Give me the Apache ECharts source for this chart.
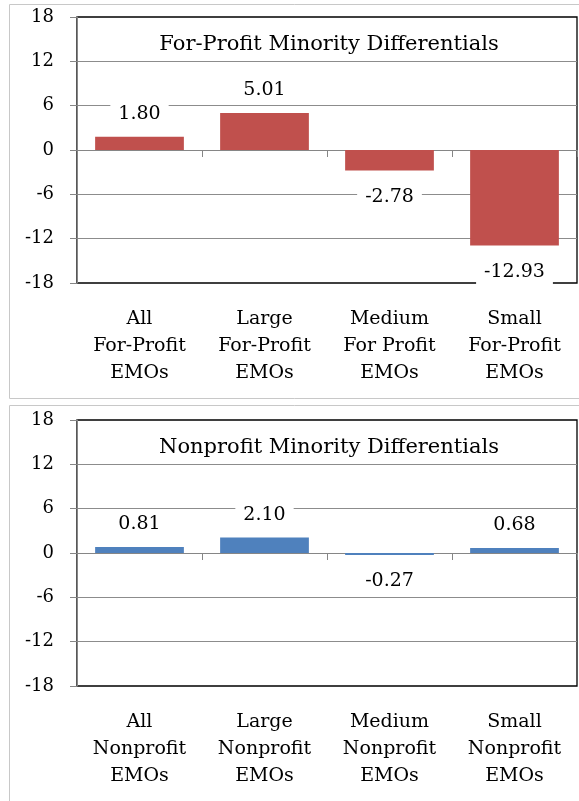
<!DOCTYPE html>
<html><head><meta charset="utf-8">
<script src="https://cdn.jsdelivr.net/npm/echarts@6/dist/echarts.min.js"></script>
<style>html,body{margin:0;padding:0;background:#fff}#c{width:579px;height:801px}</style>
</head><body><div id="c"></div>
<script>
const titles = ['For-Profit Minority Differentials', 'Nonprofit Minority Differentials'];
const categoriesForProfit = ['All\nFor-Profit\nEMOs', 'Large\nFor-Profit\nEMOs', 'Medium\nFor Profit\nEMOs', 'Small\nFor-Profit\nEMOs'];
const categoriesNonprofit = ['All\nNonprofit\nEMOs', 'Large\nNonprofit\nEMOs', 'Medium\nNonprofit\nEMOs', 'Small\nNonprofit\nEMOs'];
const valuesForProfit = [1.80, 5.01, -2.78, -12.93];
const valuesNonprofit = [0.81, 2.10, -0.27, 0.68];
const yTicks = { min: -18, max: 18, interval: 6 };
const colors = ['#C0504D', '#4F81BD'];

const FONT = 'DejaVu Serif';
const chart = echarts.init(document.getElementById('c'), null, { renderer: 'canvas' });

const panels = [
  { cats: categoriesForProfit, vals: valuesForProfit, top: 17, title: titles[0], color: colors[0] },
  { cats: categoriesNonprofit, vals: valuesNonprofit, top: 420, title: titles[1], color: colors[1] }
];
const gridH = 266, gridLeft = 77, gridRight = 2;

const grid = [], xAxis = [], yAxis = [], series = [], title = [];
panels.forEach((p, i) => {
  grid.push({ left: gridLeft, right: gridRight, top: p.top, height: gridH, show: true, borderColor: '#000', borderWidth: 1.3, backgroundColor: 'transparent' });
  xAxis.push({ type: 'category', gridIndex: i, data: p.cats, axisLine: { onZero: true, lineStyle: { color: '#868686', width: 1 } },
    axisTick: { show: true, length: 7, lineStyle: { color: '#868686' } }, axisLabel: { show: false }, z: 3 });
  xAxis.push({ type: 'category', gridIndex: i, data: p.cats, position: 'bottom', axisLine: { show: false, onZero: false },
    axisTick: { show: false }, axisLabel: { show: true, fontFamily: FONT, fontSize: 19, color: '#000', lineHeight: 27, margin: 23 } });
  yAxis.push({ type: 'value', gridIndex: i, min: yTicks.min, max: yTicks.max, interval: yTicks.interval,
    axisLine: { show: true, lineStyle: { color: '#868686' } }, axisTick: { show: true, length: 7, lineStyle: { color: '#868686' } },
    axisLabel: { fontFamily: FONT, fontSize: 18, color: '#000', margin: 23 },
    splitLine: { show: true, showMinLine: false, showMaxLine: false, lineStyle: { color: '#8c8c8c', width: 1 } } });
  series.push({ type: 'bar', xAxisIndex: i * 2, yAxisIndex: i, barWidth: '71%', itemStyle: { color: p.color },
    data: p.vals.map(v => ({ value: v, label: { position: v < 0 ? 'bottom' : 'top', distance: v < 0 ? 14 : 10 } })),
    label: { show: true, distance: 10, fontFamily: FONT, fontSize: 19, color: '#000', backgroundColor: '#fff', padding: [3, 8],
      formatter: d => d.value.toFixed(2) }, z: 4 });
  title.push({ text: p.title, left: 324, textAlign: 'center', top: p.top + 12,
    textStyle: { fontFamily: FONT, fontSize: 21, fontWeight: 'normal', color: '#000' } });
});

chart.setOption({
  animation: false,
  title, grid, xAxis, yAxis, series,
  graphic: [
    { type: 'rect', shape: { x: 9.5, y: 4.5, width: 700, height: 394 }, style: { fill: 'none', stroke: '#c8c8c8', lineWidth: 1 }, z: -1 },
    { type: 'rect', shape: { x: 9.5, y: 405.5, width: 700, height: 500 }, style: { fill: 'none', stroke: '#c8c8c8', lineWidth: 1 }, z: -1 }
  ]
});
</script></body></html>
